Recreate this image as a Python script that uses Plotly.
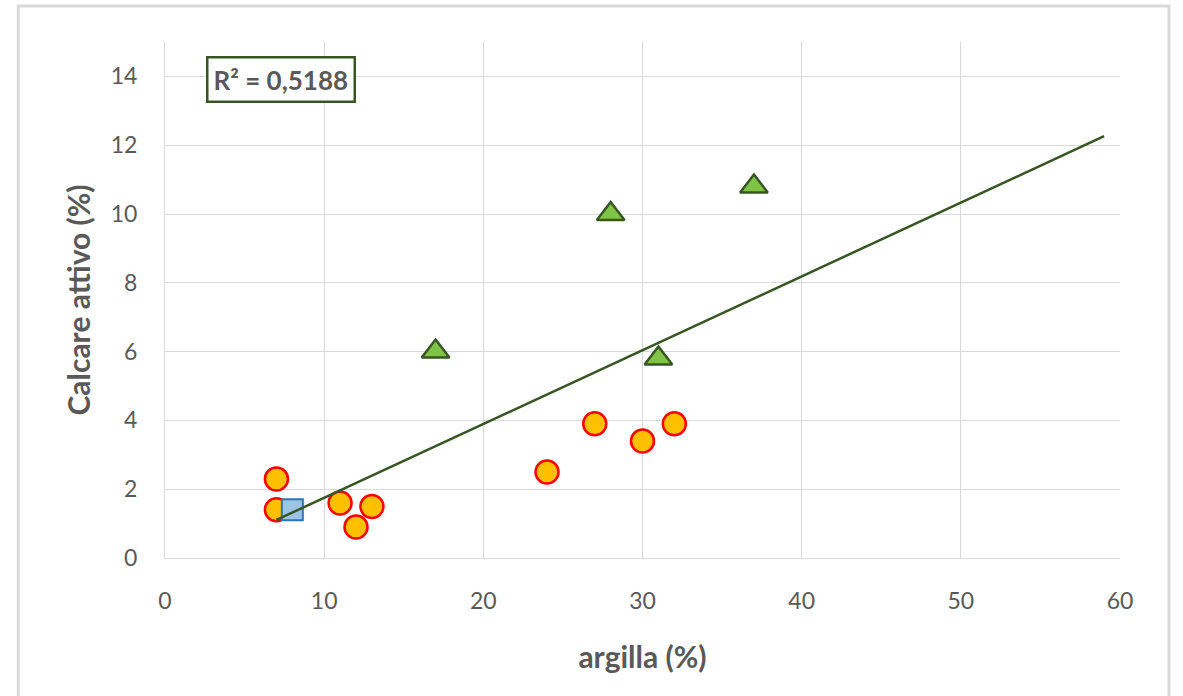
import numpy as np
import plotly.graph_objects as go

# Data
circle_x = [7, 7, 11, 12, 13, 24, 27, 30, 32]
circle_y = [2.3, 1.4, 1.6, 0.9, 1.5, 2.5, 3.9, 3.4, 3.9]
square_x = [8]
square_y = [1.4]
triangle_x = [17, 28, 31, 37]
triangle_y = [6.0, 10.0, 5.8, 10.8]
x_title = "argilla (%)"
y_title = "Calcare attivo (%)"
trend_end_x = 59  # trendline forecast end

# Linear trendline over all points
all_x = np.array(circle_x + square_x + triangle_x, dtype=float)
all_y = np.array(circle_y + square_y + triangle_y, dtype=float)
slope, intercept = np.polyfit(all_x, all_y, 1)
pred = slope * all_x + intercept
r2 = 1 - np.sum((all_y - pred) ** 2) / np.sum((all_y - all_y.mean()) ** 2)
r2_text = ("R² = %.4f" % r2).replace(".", ",")
tx = np.array([all_x.min(), trend_end_x])
ty = slope * tx + intercept

FONT = "Lato"
GRAY = "#595959"
GRID = "#D9D9D9"

fig = go.Figure()
fig.add_trace(go.Scatter(
    x=circle_x, y=circle_y, mode="markers",
    marker=dict(symbol="circle", size=23, color="#FFC000",
                line=dict(color="#FF0000", width=2.5)),
    showlegend=False, hoverinfo="x+y"))
fig.add_trace(go.Scatter(
    x=square_x, y=square_y, mode="markers",
    marker=dict(symbol="square", size=21, color="#9DC3E6",
                line=dict(color="#2E75B6", width=2)),
    showlegend=False, hoverinfo="x+y"))
fig.add_trace(go.Scatter(
    x=triangle_x, y=triangle_y, mode="markers",
    marker=dict(symbol="triangle-up", size=24, color="#80C447",
                line=dict(color="#375623", width=2.5)),
    showlegend=False, hoverinfo="x+y"))
fig.add_trace(go.Scatter(
    x=tx, y=ty, mode="lines",
    line=dict(color="#375623", width=2.5),
    showlegend=False, hoverinfo="skip"))

fig.update_layout(
    width=1183, height=696,
    margin=dict(l=165, r=63, t=42, b=138),
    paper_bgcolor="white", plot_bgcolor="white",
    font=dict(family=FONT, color=GRAY),
    xaxis=dict(range=[0, 60], dtick=10, showgrid=True, gridcolor=GRID, gridwidth=1,
               showline=True, linecolor=GRID, linewidth=1, zeroline=False,
               ticks="", ticklabelstandoff=22,
               tickfont=dict(size=23, color=GRAY, family=FONT),
               title=dict(text="<b>%s</b>" % x_title, standoff=34,
                          font=dict(size=30, color=GRAY, family=FONT))),
    yaxis=dict(range=[0, 15], tickvals=list(range(0, 15, 2)), showgrid=True,
               gridcolor=GRID, gridwidth=1,
               showline=True, linecolor=GRID, linewidth=1, zeroline=False,
               ticks="", ticklabelstandoff=22,
               tickfont=dict(size=23, color=GRAY, family=FONT),
               title=dict(text="<b>%s</b>" % y_title, standoff=11,
                          font=dict(size=30, color=GRAY, family=FONT))),
    shapes=[dict(type="rect", xref="paper", yref="paper",
                 x0=-0.1536, x1=1.0513, y0=-0.3, y1=1.0698,
                 line=dict(color=GRID, width=3), fillcolor="rgba(0,0,0,0)",
                 layer="below")],
    annotations=[dict(xref="paper", yref="paper", x=0.1215, y=0.928,
                      xanchor="center", yanchor="middle",
                      text="<b>%s</b>" % r2_text, showarrow=False,
                      font=dict(size=26, color=GRAY, family=FONT),
                      bgcolor="white", bordercolor="#375623", borderwidth=2.5,
                      borderpad=5)],
)

fig.write_html("out.html", config={"displayModeBar": False},
               post_script="document.body.style.margin='0';")
